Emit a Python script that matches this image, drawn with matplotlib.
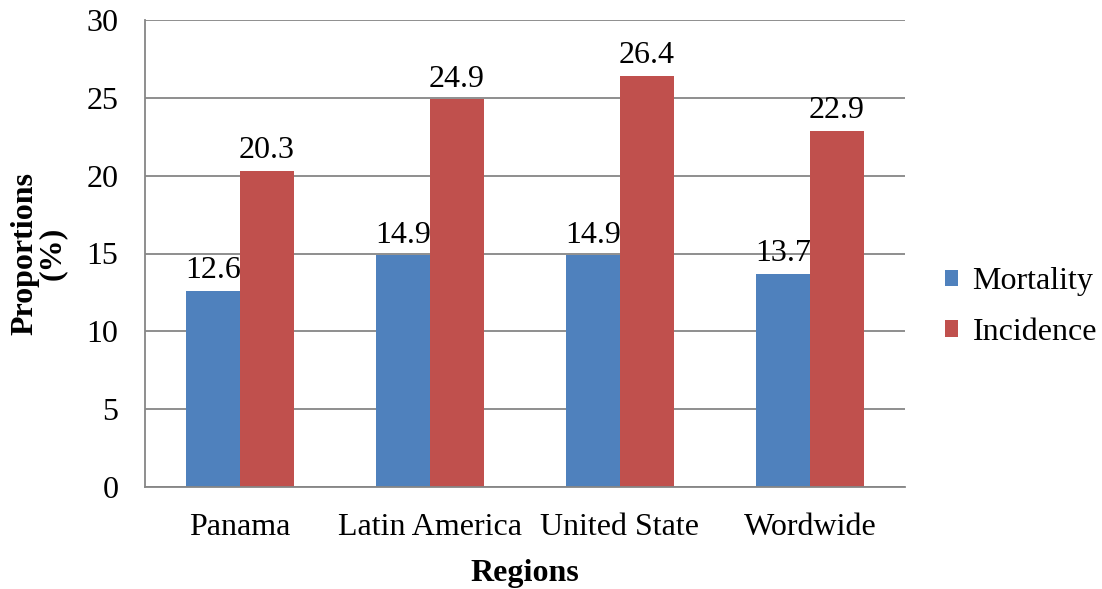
import matplotlib
matplotlib.use("Agg")
import matplotlib.pyplot as plt
import numpy as np

regions = ["Panama", "Latin America", "United State", "Wordwide"]
mortality = [12.6, 14.9, 14.9, 13.7]
incidence = [20.3, 24.9, 26.4, 22.9]
series_names = ["Mortality", "Incidence"]
yticks = [0, 5, 10, 15, 20, 25, 30]

plt.rcParams["font.family"] = ["Liberation Serif", "DejaVu Serif"]
FS = 23

fig = plt.figure(figsize=(11.02, 5.89), dpi=100)
ax = fig.add_axes([145 / 1102, 1 - 487 / 589, 760 / 1102, 467 / 589])

x = np.arange(len(regions))
w = 0.284
blue = "#4f81bd"
red = "#c0504d"
b1 = ax.bar(x - w / 2, mortality, w, color=blue, label=series_names[0], zorder=2)
b2 = ax.bar(x + w / 2, incidence, w, color=red, label=series_names[1], zorder=2)

# value labels above each bar
for rects, vals in ((b1, mortality), (b2, incidence)):
    for r, v in zip(rects, vals):
        ax.annotate(f"{v}", (r.get_x() + r.get_width() / 2, v),
                    xytext=(0, 4), textcoords="offset points",
                    ha="center", va="bottom", fontsize=FS, zorder=3)

ax.set_xlim(-0.5, len(regions) - 0.5)
ax.set_ylim(0, 30)
ax.set_yticks(yticks)
ax.set_xticks(x)
ax.set_xticklabels(regions)
ax.tick_params(axis="both", length=0, labelsize=FS)
ax.tick_params(axis="y", pad=19)
ax.tick_params(axis="x", pad=19)
ax.yaxis.grid(True, color="#868686", linewidth=1.3, zorder=0)
ax.set_axisbelow(True)
for s in ("top", "right"):
    ax.spines[s].set_visible(False)
for s in ("left", "bottom"):
    ax.spines[s].set_color("#868686")
    ax.spines[s].set_linewidth(1.3)

ax.set_xlabel("Regions", fontsize=FS, fontweight="bold", labelpad=12)
ax.set_ylabel("Proportions\n(%)", fontsize=FS, fontweight="bold", labelpad=14,
              linespacing=0.95)

ax.legend(loc="center left", bbox_to_anchor=(1.0 + 27 / 760, 0.385),
          frameon=False, fontsize=FS, handlelength=0.42, handleheight=0.42,
          handletextpad=0.45, labelspacing=0.68, borderaxespad=0)

fig.savefig("out.png", dpi=100)
